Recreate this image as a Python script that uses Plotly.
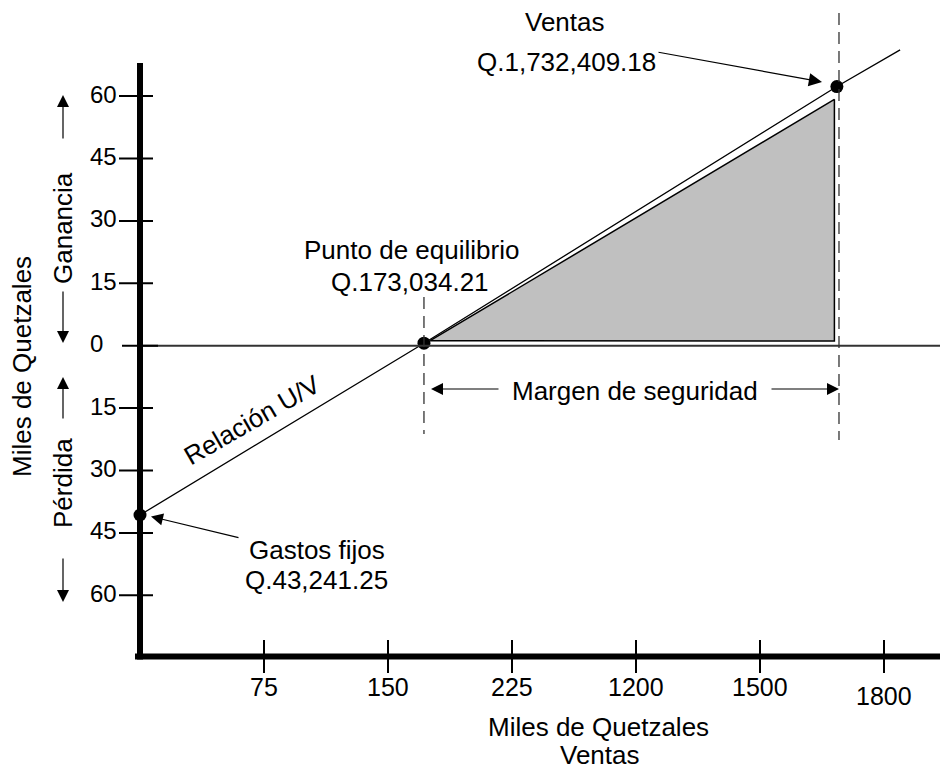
import plotly.graph_objects as go

# ---------------- data ----------------
x_tick_pos = [1, 2, 3, 4, 5, 6]
x_tick_labels = ["75", "150", "225", "1200", "1500", "1800"]
y_tick_vals = [60, 45, 30, 15, 0, -15, -30, -45, -60]
y_tick_labels = ["60", "45", "30", "15", "0", "15", "30", "45", "60"]

# key points (x in tick-position units, y in miles de Q; ganancia > 0)
point_x = [0.0, 2.29, 5.62]
point_y = [-40.7, 0.6, 62.3]

# Relación U/V line
line_x = [0.0, 2.29, 5.62, 6.13]
line_y = [-40.7, 0.6, 62.3, 71.1]

# shaded profit area
area_x = [2.34, 5.60, 5.60, 2.34]
area_y = [1.2, 59.2, 1.1, 1.2]

W, H = 940, 770
X0PIX, XK = 140.0, 124.0      # pixel of x=0, pixels per x unit
Y0PIX, YK = 345.7, 4.16       # pixel of y=0, pixels per y unit


def px(p):
    return (p - X0PIX) / XK


def py(p):
    return (Y0PIX - p) / YK


FONT = "Liberation Sans, Arial, sans-serif"

fig = go.Figure()

# shaded area
fig.add_trace(go.Scatter(x=area_x, y=area_y, mode="lines", fill="toself",
                         fillcolor="#c0c0c0", line=dict(color="black", width=1.5),
                         hoverinfo="skip"))
# main line
fig.add_trace(go.Scatter(x=line_x, y=line_y, mode="lines",
                         line=dict(color="black", width=1.3), hoverinfo="skip"))
# points
fig.add_trace(go.Scatter(x=point_x, y=point_y, mode="markers",
                         marker=dict(color="black", size=13), cliponaxis=False,
                         hoverinfo="skip"))

shapes = []
# zero line
shapes.append(dict(type="line", x0=0, x1=px(940), y0=0, y1=0,
                   line=dict(color="#333333", width=2)))
# dashed verticals
shapes.append(dict(type="line", x0=point_x[1], x1=point_x[1], y0=py(297), y1=py(434),
                   line=dict(color="#333333", width=1.3, dash="12px,7px")))
shapes.append(dict(type="line", x0=5.637, x1=5.637, y0=py(13), y1=py(440),
                   line=dict(color="#333333", width=1.3, dash="12px,7px")))
# axes
x_axis_level = py(656.5)
shapes.append(dict(type="line", x0=0, x1=0, y0=py(63), y1=py(659.5),
                   line=dict(color="black", width=6)))
shapes.append(dict(type="line", x0=px(135), x1=px(940), y0=x_axis_level, y1=x_axis_level,
                   line=dict(color="black", width=6)))
# y ticks
for v in y_tick_vals:
    a, b = (px(122), px(158)) if v == 0 else (px(119), px(153))
    shapes.append(dict(type="line", x0=a, x1=b, y0=v, y1=v,
                       line=dict(color="black", width=2)))
# x ticks
for u in x_tick_pos:
    shapes.append(dict(type="line", x0=u, x1=u, y0=py(640), y1=py(673),
                       line=dict(color="black", width=2)))

ann = []
# y tick labels
for v, t in zip(y_tick_vals, y_tick_labels):
    ann.append(dict(x=px(88), y=v + 0.5, text=t, showarrow=False, xanchor="left",
                    yanchor="middle", font=dict(family=FONT, size=24, color="black")))
# x tick labels
for u, t in zip(x_tick_pos, x_tick_labels):
    yy = py(696) if t == "1800" else py(687)
    ann.append(dict(x=u, y=yy, text=t, showarrow=False, xanchor="center",
                    yanchor="middle", font=dict(family=FONT, size=25, color="black")))


def text(x, y, t, size=26, angle=0, xanchor="center", family=FONT):
    ann.append(dict(x=x, y=y, text=t, showarrow=False, xanchor=xanchor, yanchor="middle",
                    textangle=angle, font=dict(family=family, size=size, color="black")))


def arrow(xt, yt, xh, yh, size=2.0, width=1.2):
    ann.append(dict(x=xh, y=yh, ax=xt, ay=yt, axref="x", ayref="y", xref="x", yref="y",
                    text="", showarrow=True, arrowhead=2, arrowsize=size,
                    arrowwidth=width, arrowcolor="black"))


# axis titles
text(px(598), py(727), "Miles de Quetzales", size=26)
text(px(600), py(755), "Ventas", size=26)
text(px(22), py(367), "Miles de Quetzales", size=26, angle=-90)
text(px(63), py(228), "Ganancia", size=26, angle=-90)
text(px(63), py(483), "Pérdida", size=26, angle=-90)
arrow(px(63), py(140), px(63), py(95))
arrow(px(63), py(290), px(63), py(343))
arrow(px(63), py(420), px(63), py(377))
arrow(px(63), py(557), px(63), py(602))

# labels
text(px(411), py(250), "Punto de equilibrio")
text(px(410), py(282), "Q.173,034.21")
text(px(565), py(22), "Ventas")
text(px(566), py(62), "Q.1,732,409.18")
arrow(px(657), py(52), px(822), py(82), size=2.2)
text(px(247), py(550), "Gastos fijos", xanchor="left")
text(px(243), py(580), "Q.43,241.25", xanchor="left")
arrow(px(240), py(538), px(151), py(516.5))
text(px(252), py(420), "Relación U/V", angle=-30)
text(px(635), py(391), "Margen de seguridad")
arrow(px(500), py(389), px(431), py(389))
arrow(px(770), py(389), px(839), py(389))

fig.update_layout(
    width=W, height=H, autosize=False,
    margin=dict(l=0, r=0, t=0, b=0),
    paper_bgcolor="white", plot_bgcolor="white",
    showlegend=False,
    xaxis=dict(range=[px(0), px(W)], visible=False, fixedrange=True),
    yaxis=dict(range=[py(H), py(0)], visible=False, fixedrange=True),
    shapes=shapes, annotations=ann,
)

fig.write_html("out.html", config={"displayModeBar": False},
               post_script="document.body.style.margin='0';")
